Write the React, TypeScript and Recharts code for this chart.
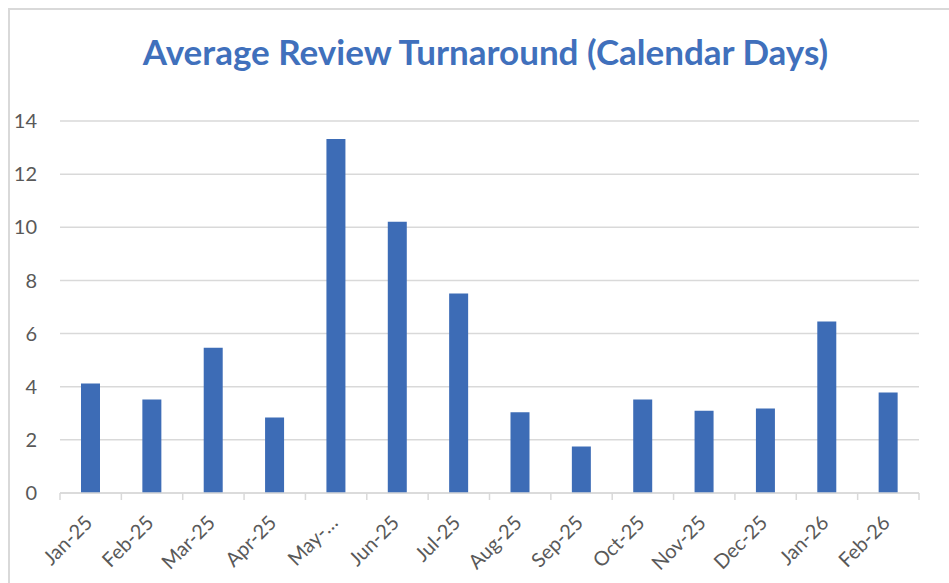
import React from "react";
import { BarChart, Bar, XAxis, YAxis, CartesianGrid } from "recharts";

const months = ["Jan-25", "Feb-25", "Mar-25", "Apr-25", "May-25", "Jun-25", "Jul-25", "Aug-25", "Sep-25", "Oct-25", "Nov-25", "Dec-25", "Jan-26", "Feb-26"];
const tickLabels = ["Jan-25", "Feb-25", "Mar-25", "Apr-25", "May-…", "Jun-25", "Jul-25", "Aug-25", "Sep-25", "Oct-25", "Nov-25", "Dec-25", "Jan-26", "Feb-26"];
const turnaroundDays = [4.12, 3.52, 5.47, 2.84, 13.32, 10.21, 7.51, 3.04, 1.75, 3.52, 3.1, 3.18, 6.45, 3.78];
const yTicks = [0, 2, 4, 6, 8, 10, 12, 14];
const title = "Average Review Turnaround (Calendar Days)";

const data = months.map((m, i) => ({ month: m, label: tickLabels[i], value: turnaroundDays[i] }));

const W = 949;
const H = 583;
const PLOT_LEFT = 60;
const PLOT_RIGHT = 919;
const BW = (PLOT_RIGHT - PLOT_LEFT) / months.length;
const FONT = "Lato, 'Open Sans', sans-serif";

const XTick = (props: any) => {
  const { x, y, payload, index } = props;
  const label = tickLabels[index] ?? payload.value;
  const ax = x + 3;
  const ay = y + 31;
  return (
    <g>
      <line x1={x - BW / 2} x2={x - BW / 2} y1={y} y2={y + 7} stroke="#d9d9d9" strokeWidth={1.5} />
      {index === months.length - 1 && (
        <line x1={x + BW / 2} x2={x + BW / 2} y1={y} y2={y + 7} stroke="#d9d9d9" strokeWidth={1.5} />
      )}
      <text x={ax} y={ay} textAnchor="end" fill="#595959" fontSize={20} fontFamily={FONT} transform={`rotate(-45 ${ax} ${ay})`}>
        {label}
      </text>
    </g>
  );
};

export default function App() {
  return (
    <div style={{ position: "absolute", left: 0, top: 0, width: W, height: H, background: "#fff", overflow: "hidden" }}>
      <div style={{ position: "absolute", left: 8, top: 8, width: 1000, height: 700, border: "2px solid #d9d9d9", boxSizing: "border-box" }} />
      <svg style={{ position: "absolute", left: 0, top: 0 }} width={W} height={100}>
        <text x={485.5} y={65} textAnchor="middle" fill="#4070BC" fontSize={35} fontWeight="bold" fontFamily={FONT}>
          {title}
        </text>
      </svg>
      <div style={{ position: "absolute", left: 0, top: 0 }}>
        <BarChart width={W} height={H} data={data} margin={{ top: 121, right: W - PLOT_RIGHT, left: 0, bottom: 0 }} barSize={19}>
          <CartesianGrid vertical={false} stroke="#d9d9d9" strokeWidth={1.5} />
          <XAxis
            dataKey="month"
            height={90}
            interval={0}
            tickLine={false}
            tickSize={0}
            tickMargin={0}
            axisLine={{ stroke: "#d9d9d9", strokeWidth: 1.5 }}
            tick={<XTick />}
          />
          <YAxis
            width={PLOT_LEFT}
            domain={[0, 14]}
            ticks={yTicks}
            axisLine={false}
            tickLine={false}
            tickSize={0}
            tickMargin={23}
            tick={{ fill: "#595959", fontSize: 20, fontFamily: FONT }}
          />
          <Bar dataKey="value" fill="#3D6CB6" isAnimationActive={false} />
        </BarChart>
      </div>
    </div>
  );
}
